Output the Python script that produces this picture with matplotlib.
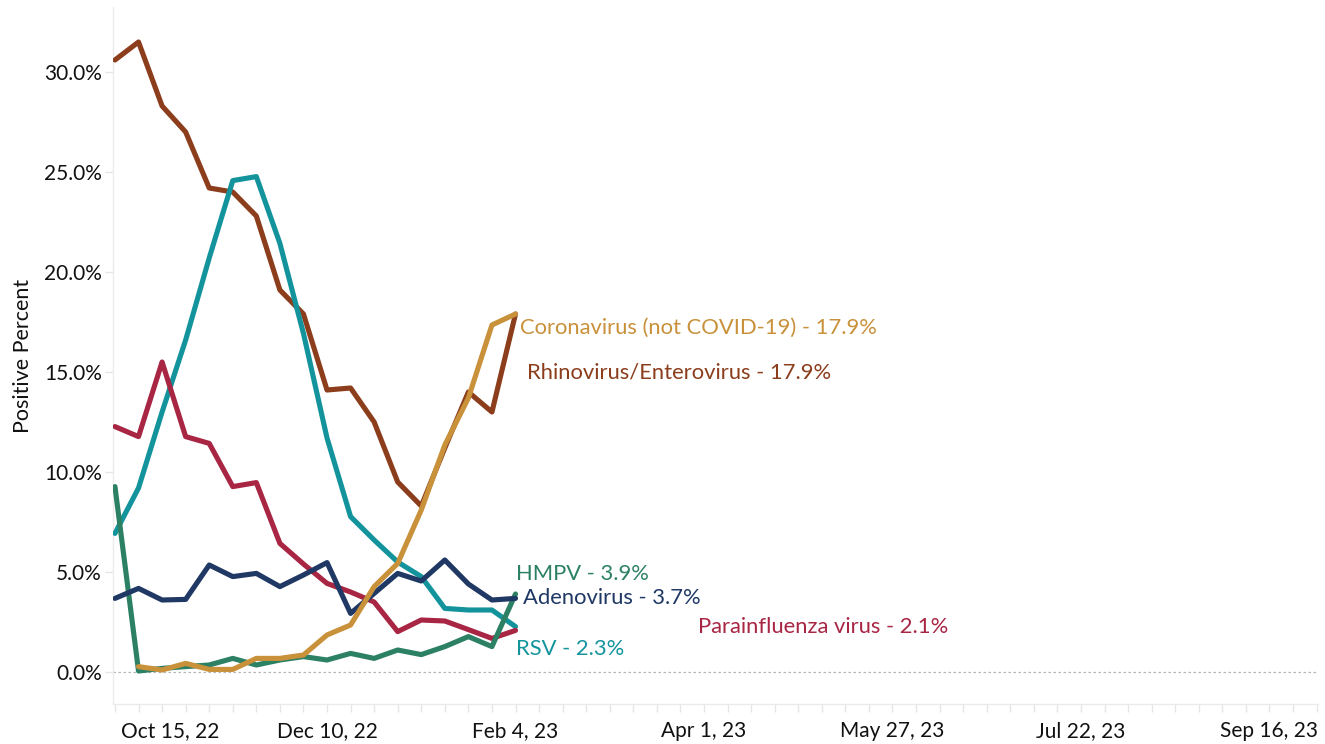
import numpy as np
import pandas as pd
import matplotlib
matplotlib.use("Agg")
import matplotlib.pyplot as plt
import matplotlib.dates as mdates
import matplotlib.transforms as mtransforms
from matplotlib.ticker import FuncFormatter

plt.rcParams['font.family'] = ['Lato', 'DejaVu Sans']

# ---- data ----
weeks = ["2022-10-08", "2022-10-15", "2022-10-22", "2022-10-29", "2022-11-05", "2022-11-12",
         "2022-11-19", "2022-11-26", "2022-12-03", "2022-12-10", "2022-12-17", "2022-12-24",
         "2022-12-31", "2023-01-07", "2023-01-14", "2023-01-21", "2023-01-28", "2023-02-04"]

rhino = [30.6, 31.5, 28.3, 27.0, 24.2, 24.0, 22.8, 19.1, 17.9, 14.1, 14.2, 12.5, 9.5, 8.3, 11.2, 14.0, 13.0, 17.9]
corona = [np.nan, 0.27, 0.10, 0.43, 0.13, 0.13, 0.68, 0.68, 0.85, 1.85, 2.35, 4.27, 5.43, 8.1, 11.35, 13.7, 17.35, 17.9]
rsv = [6.93, 9.2, 13.0, 16.6, 20.7, 24.57, 24.77, 21.43, 16.93, 11.7, 7.77, 6.6, 5.5, 4.77, 3.18, 3.1, 3.1, 2.27]
parainf = [12.27, 11.77, 15.5, 11.77, 11.43, 9.27, 9.47, 6.43, 5.4, 4.43, 4.0, 3.5, 2.02, 2.6, 2.55, 2.12, 1.68, 2.08]
adeno = [3.68, 4.18, 3.6, 3.63, 5.35, 4.77, 4.93, 4.27, 4.85, 5.47, 2.93, 3.93, 4.93, 4.55, 5.6, 4.4, 3.6, 3.68]
hmpv = [9.27, 0.05, 0.18, 0.27, 0.35, 0.68, 0.35, 0.6, 0.77, 0.6, 0.93, 0.68, 1.1, 0.87, 1.27, 1.77, 1.27, 3.9]

series_names = ["Rhinovirus/Enterovirus", "RSV", "Parainfluenza virus", "HMPV", "Adenovirus",
                "Coronavirus (not COVID-19)"]
series_values = [rhino, rsv, parainf, hmpv, adeno, corona]
series_labels = ["Rhinovirus/Enterovirus - 17.9%", "RSV - 2.3%", "Parainfluenza virus - 2.1%",
                 "HMPV - 3.9%", "Adenovirus - 3.7%", "Coronavirus (not COVID-19) - 17.9%"]
colors = ["#8b3d1c", "#13949c", "#a82543", "#2c8064", "#1f3864", "#c8913a"]
label_offsets = [(11, -64), (0, -28), (182, -3), (0, 14), (7, -6), (4, -20)]

xtick_dates = ["2022-10-15", "2022-12-10", "2023-02-04", "2023-04-01", "2023-05-27",
               "2023-07-22", "2023-09-16"]
xtick_labels = ["Oct 15, 22", "Dec 10, 22", "Feb 4, 23", "Apr 1, 23", "May 27, 23",
                "Jul 22, 23", "Sep 16, 23"]
yticks = [0, 5, 10, 15, 20, 25, 30]

# ---- figure ----
W, H = 1325, 744
fig = plt.figure(figsize=(W / 100, H / 100), dpi=100)
ax = fig.add_axes([113 / W, (H - 704) / H, (1318 - 113) / W, (704 - 7) / H])

x = pd.to_datetime(weeks)
for name, vals, col, lab, off in zip(series_names, series_values, colors, series_labels, label_offsets):
    ax.plot(x, vals, color=col, lw=3.7, solid_joinstyle='round', solid_capstyle='round', zorder=3)
    ax.annotate(lab, xy=(x[-1], vals[-1]), xytext=off, textcoords='offset pixels',
                color=col, fontsize=15.8, ha='left', va='baseline', zorder=4)

ax.axhline(0, color='#b5b5b5', lw=0.9, ls=(0, (2, 2)), zorder=1)

ax.set_xlim(pd.Timestamp("2022-10-07 10:00"), pd.Timestamp("2023-09-30 10:00"))
ax.set_ylim(-1.6, 33.25)

ax.set_yticks(yticks)
ax.yaxis.set_major_formatter(FuncFormatter(lambda v, p: f"{v:.1f}%"))
ax.set_xticks(pd.to_datetime(xtick_dates))
ax.set_xticklabels(xtick_labels)
ax.xaxis.set_minor_locator(mdates.WeekdayLocator(byweekday=mdates.SA))

for s in ['top', 'right']:
    ax.spines[s].set_visible(False)
for s in ['left', 'bottom']:
    ax.spines[s].set_color('#ebebeb')
    ax.spines[s].set_linewidth(1.0)

ax.tick_params(axis='y', which='major', length=5.8, width=1, color='#e6e6e6', labelsize=15,
               pad=2.3, labelcolor='#111111')
ax.tick_params(axis='x', which='both', length=5.8, width=1, color='#e6e6e6', labelsize=15,
               pad=6.2, labelcolor='#111111')

# first x label kept inside the pane (left-aligned near the axis start, as in the reference)
lbl0 = ax.get_xticklabels()[0]
lbl0.set_horizontalalignment('left')
lbl0.set_transform(lbl0.get_transform() + mtransforms.ScaledTranslation(-18 / 100, 0, fig.dpi_scale_trans))

ax.set_ylabel("Positive Percent", fontsize=15.5, color='#111111')
ax.yaxis.set_label_coords(-0.0664, 0.5)

fig.savefig("out.png", dpi=100)
